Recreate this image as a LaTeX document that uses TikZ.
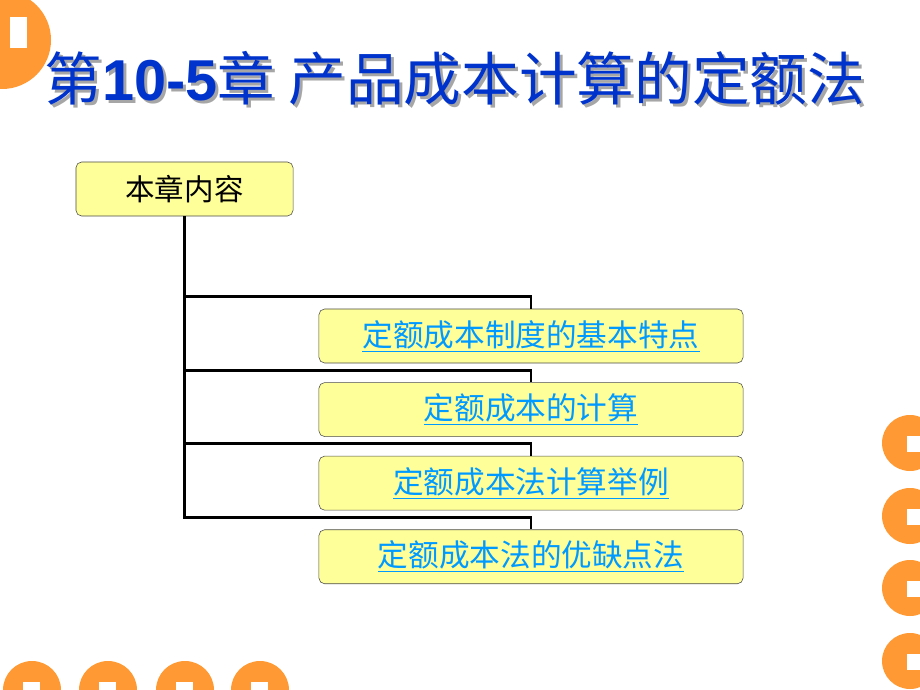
\documentclass[tikz,border=0pt]{standalone}
\usepackage{fontspec}
\setmainfont{Noto Sans CJK SC}
\newfontfamily\arialfont{Liberation Sans}
\usetikzlibrary{positioning}
\definecolor{titleblue}{RGB}{0,51,204}
\definecolor{linkblue}{RGB}{0,153,255}
\definecolor{boxyellow}{RGB}{255,255,153}
\definecolor{dotorange}{RGB}{255,153,51}

\begin{document}
\begin{tikzpicture}[
    x=0.025cm, y=-0.025cm,
    topic/.style={rectangle, draw=black!70, fill=boxyellow, minimum width=5.425cm, minimum height=1.35cm, text centered, font=\fontsize{21}{24}\selectfont, rounded corners=4pt},
    item/.style={rectangle, draw=black!70, fill=boxyellow, minimum width=10.6cm, minimum height=1.35cm, text centered, font=\fontsize{21.8}{24}\selectfont, text=linkblue, rounded corners=4pt},
    branch/.style={draw=black, line width=2pt},
    dot/.style={fill=dotorange, draw=none},
    hole/.style={fill=white, draw=none},
    heading/.style={font=\fontsize{41}{46}\selectfont, inner sep=0pt}
]
\useasboundingbox (0,0) rectangle (920,690);
\clip (0,0) rectangle (920,690);

% Orange decorations
\fill[dot] (2,40) circle (49);
\fill[hole] (10,17) rectangle (27,48);
\foreach \cy in {443,516,588,661} {
    \fill[dot] (910,\cy) circle (28);
    \fill[hole] (907,\cy-7) rectangle (920,\cy+9);
}
\foreach \cx in {32,108,185,260} {
    \fill[dot] (\cx,690) circle (29);
    \fill[hole] (\cx-9,682) rectangle (\cx+8,690);
}

% Title with shadow
\node[heading, text=black!35] (title_shadow) at (458,81) {第{\arialfont\bfseries 10-5}章 产品成本计算的定额法};
\node[heading, text=titleblue] (title) at (455,78) {第{\arialfont\bfseries 10-5}章 产品成本计算的定额法};

% Root box
\node[topic] (root) at (184.5,189) {本章内容};

% Content boxes
\node[item] (basic) at (531,336) {\underline{定额成本制度的基本特点}};
\node[item, below=0.475cm of basic] (calc) {\underline{定额成本的计算}};
\node[item, below=0.475cm of calc] (example) {\underline{定额成本法计算举例}};
\node[item, below=0.475cm of example] (merits) {\underline{定额成本法的优缺点法}};

% Tree connectors
\foreach \b in {basic, calc, example, merits}
    \draw[branch] (root.south) |- ([yshift=0.3cm]\b.north) -- (\b.north);

\end{tikzpicture}
\end{document}
